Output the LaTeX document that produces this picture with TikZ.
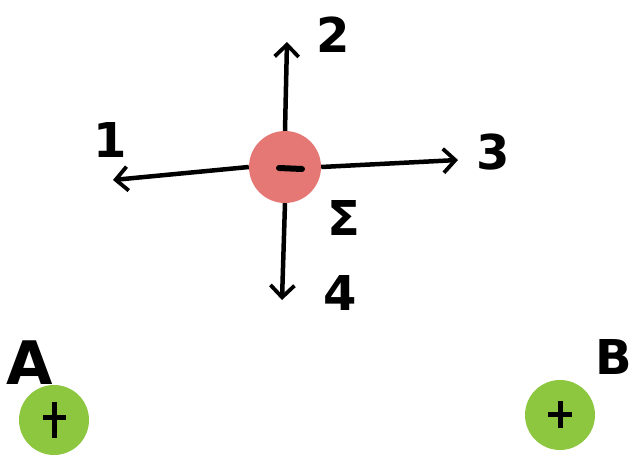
\documentclass[tikz,border=0pt]{standalone}
\usepackage{fontspec}
\setmainfont{DejaVu Sans}
\usetikzlibrary{arrows.meta}
\definecolor{neg}{RGB}{229,120,117}
\definecolor{pos}{RGB}{141,198,63}
\tikzset{
  charge/.style={circle, minimum size=#1, inner sep=0pt},
  force/.style={line width=4.5pt, -{Straight Barb[length=12pt,width=24pt,line width=3.8pt]}},
  lab/.style={font=\bfseries\fontsize{48}{48}\selectfont, inner sep=0pt}
}
\begin{document}
\begin{tikzpicture}[x=1pt,y=-1pt]
\useasboundingbox (0,0) rectangle (640,457);
\node[charge=72pt, fill=neg] (e) at (285,167) {};
\draw[line width=6pt, line cap=round] (279,168) -- (302,169);
\node[charge=70pt, fill=pos] (A) at (54,420) {};
\draw[line width=5pt] (43,417) -- (66,417) (54,402) -- (54,438);
\node[charge=70pt, fill=pos] (B) at (560,415) {};
\draw[line width=5pt] (548,414) -- (572,414) (560,401) -- (560,428);
\coordinate (t1) at (113,180);
\coordinate (t2) at (287,42);
\coordinate (t3) at (458,160);
\coordinate (t4) at (282,300);
\draw[force] (e.west) -- (t1);
\draw[force] (e.north) -- (t2);
\draw[force] (e.east) -- (t3);
\draw[force] (e.south) -- (t4);
\node[lab] (l1) at (110,140) {1};
\node[lab] (l2) at (333,35) {2};
\node[lab] (l3) at (493,152) {3};
\node[lab] (l4) at (340,293) {4};
\node[lab] (s) at (344,218) {Σ};
\node[lab, font=\bfseries\fontsize{60}{60}\selectfont] (la) at (30,363) {A};
\node[lab] (lb) at (614,357) {B};
\end{tikzpicture}
\end{document}
